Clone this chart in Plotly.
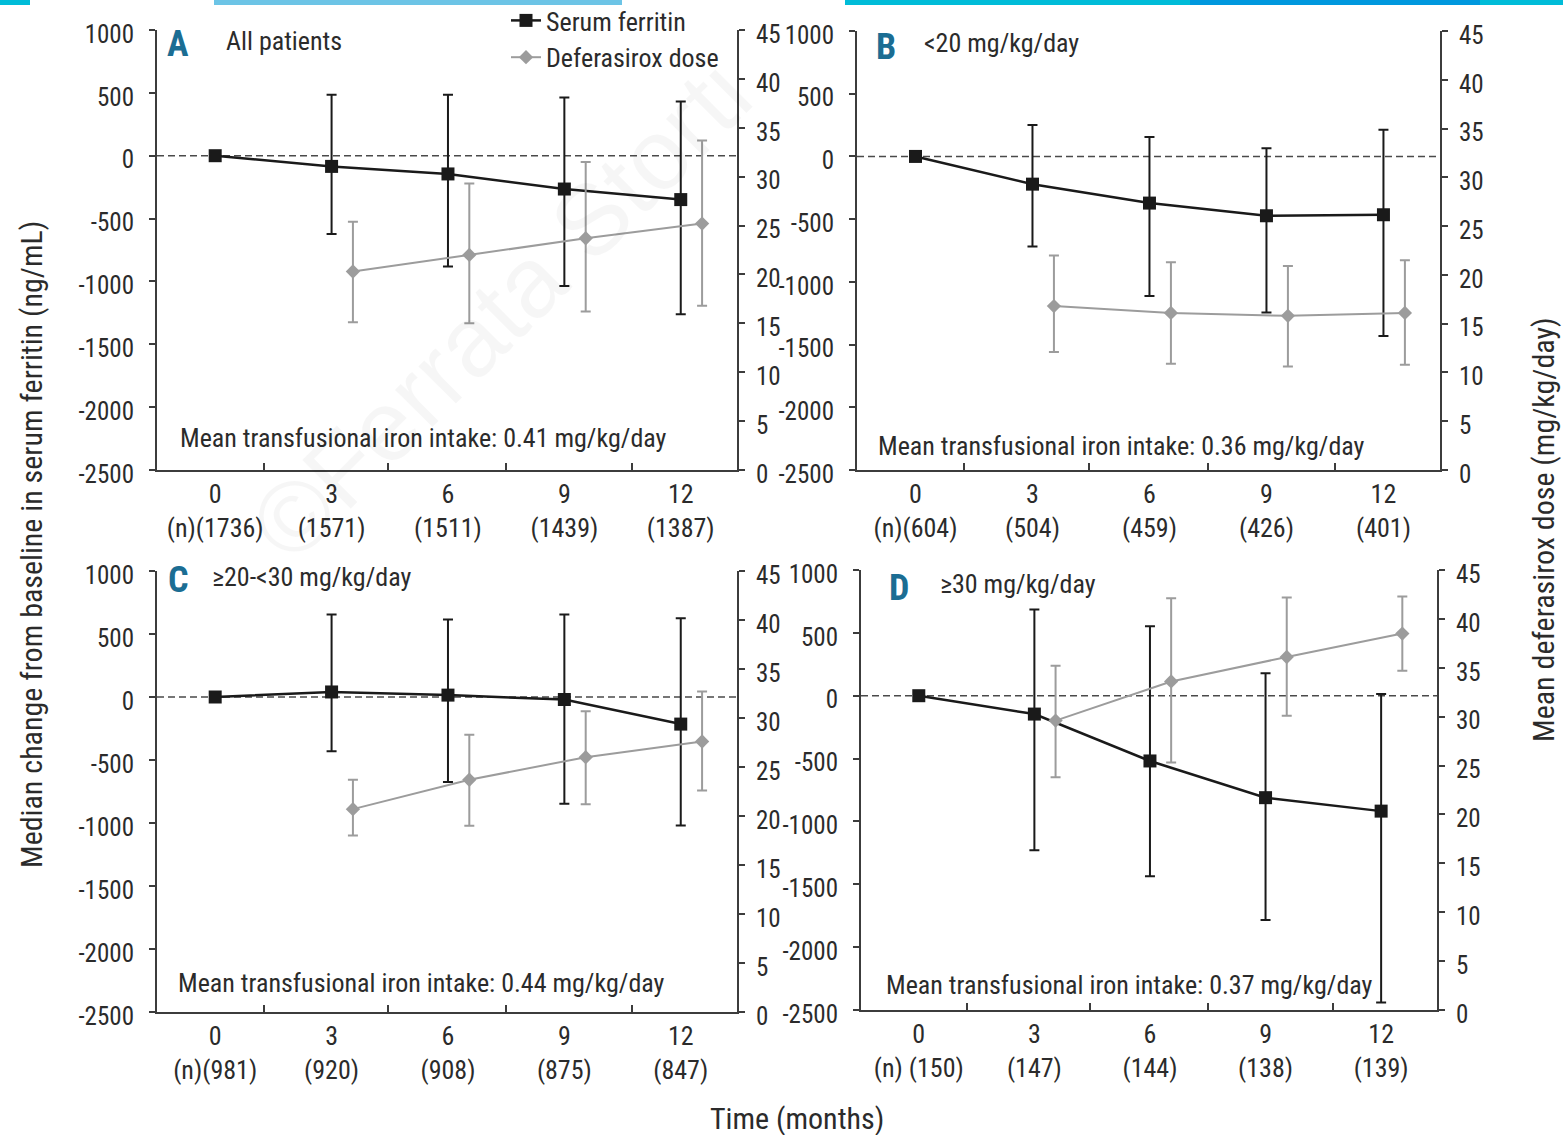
import plotly.graph_objects as go

# ---- data -------------------------------------------------------------
months = [0, 3, 6, 9, 12]
dose_months = [3.55, 6.55, 9.55, 12.55]   # dose drawn just right of each visit

panel_letters = ["A", "B", "C", "D"]
panel_titles = ["All patients", "<20 mg/kg/day", "\u226520-<30 mg/kg/day", "\u226530 mg/kg/day"]
iron_intake = ["0.41", "0.36", "0.44", "0.37"]

n_labels_a = ["(n)(1736)", "(1571)", "(1511)", "(1439)", "(1387)"]
n_labels_b = ["(n)(604)", "(504)", "(459)", "(426)", "(401)"]
n_labels_c = ["(n)(981)", "(920)", "(908)", "(875)", "(847)"]
n_labels_d = ["(n) (150)", "(147)", "(144)", "(138)", "(139)"]

# median change in serum ferritin (ng/mL) with upper / lower bar ends
ferritin_a = [0, -85, -145, -265, -349]
ferritin_a_hi = [0, 484, 484, 463, 431]
ferritin_a_lo = [0, -622, -881, -1037, -1262]

ferritin_b = [0, -221, -372, -473, -465]
ferritin_b_hi = [0, 250, 154, 66, 213]
ferritin_b_lo = [0, -718, -1112, -1245, -1431]

ferritin_c = [0, 40, 15, -20, -215]
ferritin_c_hi = [0, 655, 615, 655, 625]
ferritin_c_lo = [0, -431, -675, -847, -1019]

ferritin_d = [0, -146, -519, -811, -918]
ferritin_d_hi = [0, 686, 553, 178, 13]
ferritin_d_lo = [0, -1229, -1436, -1785, -2441]

# mean deferasirox dose (mg/kg/day) with upper / lower bar ends
dose_a = [20.3, 22.0, 23.7, 25.2]
dose_a_hi = [25.4, 29.3, 31.5, 33.7]
dose_a_lo = [15.1, 15.0, 16.2, 16.8]

dose_b = [16.8, 16.1, 15.8, 16.1]
dose_b_hi = [22.0, 21.3, 20.9, 21.5]
dose_b_lo = [12.1, 10.9, 10.6, 10.8]

dose_c = [20.7, 23.7, 26.0, 27.6]
dose_c_hi = [23.7, 28.3, 30.7, 32.7]
dose_c_lo = [18.0, 19.0, 21.2, 22.6]

dose_d = [29.6, 33.6, 36.1, 38.5]
dose_d_hi = [35.2, 42.1, 42.2, 42.3]
dose_d_lo = [23.8, 25.3, 30.1, 34.7]

ferritin_ticks = [-2500, -2000, -1500, -1000, -500, 0, 500, 1000]
dose_ticks = [0, 5, 10, 15, 20, 25, 30, 35, 40, 45]
boundary_ticks = [1.25, 4.45, 7.5, 10.75]

panels = [
    (ferritin_a, ferritin_a_hi, ferritin_a_lo, dose_a, dose_a_hi, dose_a_lo, n_labels_a),
    (ferritin_b, ferritin_b_hi, ferritin_b_lo, dose_b, dose_b_hi, dose_b_lo, n_labels_b),
    (ferritin_c, ferritin_c_hi, ferritin_c_lo, dose_c, dose_c_hi, dose_c_lo, n_labels_c),
    (ferritin_d, ferritin_d_hi, ferritin_d_lo, dose_d, dose_d_hi, dose_d_lo, n_labels_d),
]

# ---- page geometry (pixels) -------------------------------------------
W, H = 1563, 1135
boxes = [  # left, right, top, bottom
    (157, 737, 30, 470),
    (857, 1440, 31, 470),
    (157, 737, 571, 1012),
    (861, 1437, 570, 1010),
]
letter_pos = [(178, 44), (886, 47), (178, 580), (899, 588)]
title_pos = [(224, 41), (922, 43), (210, 577), (938, 584)]
note_pos = [(178, 438), (876, 446), (176, 983), (884, 985)]

FONT = "Roboto Condensed, Liberation Sans Narrow, Arial Narrow, sans-serif"
TEXT = "#2b2b2b"
AXIS_COLOR = "#3c3c3c"
FERRITIN_COLOR = "#1a1a1a"
DOSE_COLOR = "#9c9c9c"
LETTER_COLOR = "#1b6d93"


def px(x):
    return x / W


def py(y):
    return 1 - y / H


fig = go.Figure()
layout = dict(
    width=W, height=H,
    margin=dict(l=0, r=0, t=0, b=0, autoexpand=False),
    paper_bgcolor="white", plot_bgcolor="rgba(0,0,0,0)",
    font=dict(family=FONT, size=25, color=TEXT),
    shapes=[], annotations=[],
)

for i, (box, data) in enumerate(zip(boxes, panels)):
    fer, fer_hi, fer_lo, dose, dose_hi, dose_lo, nlab = data
    left, right, top, bottom = box
    k = i + 1
    xa = "x" if k == 1 else f"x{k}"
    yl_n, yr_n = 2 * k - 1, 2 * k
    yl = "y" if yl_n == 1 else f"y{yl_n}"
    yr = f"y{yr_n}"

    fig.add_trace(go.Scatter(
        x=months, y=fer, xaxis=xa, yaxis=yl,
        mode="lines+markers", name="Serum ferritin",
        line=dict(color=FERRITIN_COLOR, width=2.5),
        marker=dict(symbol="square", size=13, color=FERRITIN_COLOR),
        error_y=dict(type="data", symmetric=False,
                     array=[h - v for h, v in zip(fer_hi, fer)],
                     arrayminus=[v - l for v, l in zip(fer, fer_lo)],
                     color=FERRITIN_COLOR, thickness=2, width=5),
        showlegend=(k == 1), legendrank=1,
    ))
    fig.add_trace(go.Scatter(
        x=dose_months, y=dose, xaxis=xa, yaxis=yr,
        mode="lines+markers", name="Deferasirox dose",
        line=dict(color=DOSE_COLOR, width=2),
        marker=dict(symbol="diamond", size=11, color=DOSE_COLOR),
        error_y=dict(type="data", symmetric=False,
                     array=[h - v for h, v in zip(dose_hi, dose)],
                     arrayminus=[v - l for v, l in zip(dose, dose_lo)],
                     color=DOSE_COLOR, thickness=2, width=5),
        showlegend=(k == 1), legendrank=2,
    ))

    xdom = [px(left), px(right)]
    ydom = [py(bottom), py(top)]
    xkey = "xaxis" if k == 1 else f"xaxis{k}"
    layout[xkey] = dict(
        domain=xdom, anchor=yl, range=[-1.5, 13.45], automargin=False,
        tickvals=months, ticktext=[f"{m}<br>{n}" for m, n in zip(months, nlab)],
        ticks="", showline=True, linecolor=AXIS_COLOR, linewidth=2,
        showgrid=False, zeroline=False, tickfont=dict(size=26),
        ticklabelstandoff=0,
        minor=dict(tickvals=boundary_ticks, ticks="inside", ticklen=7,
                   tickwidth=2, tickcolor=AXIS_COLOR),
    )
    lkey = "yaxis" if yl_n == 1 else f"yaxis{yl_n}"
    layout[lkey] = dict(
        domain=ydom, anchor=xa, range=[-2500, 1000], automargin=False,
        tickvals=ferritin_ticks, ticktext=[str(t) for t in ferritin_ticks],
        ticks="outside", ticklen=6, tickwidth=2,
        tickcolor=AXIS_COLOR, showline=True, linecolor=AXIS_COLOR, linewidth=2,
        showgrid=False, zeroline=False, tickfont=dict(size=25),
        ticklabelstandoff=10, ticklabelshift=4,
    )
    layout[f"yaxis{yr_n}"] = dict(
        domain=ydom, anchor=xa, overlaying=yl, side="right", range=[0, 45],
        automargin=False,
        tickvals=dose_ticks, ticktext=[str(t) for t in dose_ticks],
        ticks="outside", ticklen=6, tickwidth=2,
        tickcolor=AXIS_COLOR, showline=True, linecolor=AXIS_COLOR, linewidth=2,
        showgrid=False, zeroline=False, tickfont=dict(size=25),
        ticklabelstandoff=6, ticklabelshift=4,
    )

    # dashed baseline at zero change
    layout["shapes"].append(dict(
        type="line", xref=f"{xa} domain", x0=0, x1=1, yref=yl, y0=0, y1=0,
        line=dict(color="#4a4a4a", width=1.6, dash="7px,4px"), layer="below",
    ))

    # panel letter, subgroup title and iron intake note
    lx, ly = letter_pos[i]
    layout["annotations"].append(dict(
        xref="paper", yref="paper", x=px(lx), y=py(ly),
        xanchor="center", yanchor="middle", showarrow=False,
        text=f"<b>{panel_letters[i]}</b>", font=dict(size=36, color=LETTER_COLOR),
    ))
    tx, ty = title_pos[i]
    layout["annotations"].append(dict(
        xref="paper", yref="paper", x=px(tx), y=py(ty),
        xanchor="left", yanchor="middle", showarrow=False,
        text=panel_titles[i], font=dict(size=26, color=TEXT),
    ))
    nx, ny = note_pos[i]
    layout["annotations"].append(dict(
        xref="paper", yref="paper", x=px(nx), y=py(ny),
        xanchor="left", yanchor="middle", showarrow=False,
        text=f"Mean transfusional iron intake: {iron_intake[i]} mg/kg/day",
        font=dict(size=26, color=TEXT),
    ))

# shared axis titles
layout["annotations"] += [
    dict(xref="paper", yref="paper", x=px(31), y=py(545), textangle=-90,
         xanchor="center", yanchor="middle",
         showarrow=False, text="Median change from baseline in serum ferritin (ng/mL)",
         font=dict(size=30, color=TEXT)),
    dict(xref="paper", yref="paper", x=px(1543), y=py(530), textangle=-90,
         xanchor="center", yanchor="middle",
         showarrow=False, text="Mean deferasirox dose (mg/kg/day)",
         font=dict(size=30, color=TEXT)),
    dict(xref="paper", yref="paper", x=px(797), y=py(1118),
         xanchor="center", yanchor="middle",
         showarrow=False, text="Time (months)", font=dict(size=30, color=TEXT)),
    # faint publisher watermark
    dict(xref="paper", yref="paper", x=px(500), y=py(310), textangle=-45,
         xanchor="center", yanchor="middle",
         showarrow=False, text="\u00a9Ferrata Storti",
         font=dict(size=100, color="rgba(0,0,0,0.035)",
                   family="Liberation Sans, Arial, sans-serif")),
]

# decorative header strip
for x0, x1, col in [(0, 30, "#00bcd8"), (214, 622, "#6cc4e6"),
                    (845, 1563, "#00bcd8"), (1190, 1480, "#0098de")]:
    layout["shapes"].append(dict(
        type="rect", xref="paper", yref="paper",
        x0=px(x0), x1=px(x1), y0=py(5), y1=py(0),
        fillcolor=col, line=dict(width=0), layer="above",
    ))

layout["legend"] = dict(
    x=px(506), y=py(-3), xanchor="left", yanchor="top",
    bgcolor="rgba(0,0,0,0)", font=dict(size=26, color=TEXT),
    tracegroupgap=0, itemwidth=30,
)

fig.update_layout(**layout)
fig.write_html("out.html")
